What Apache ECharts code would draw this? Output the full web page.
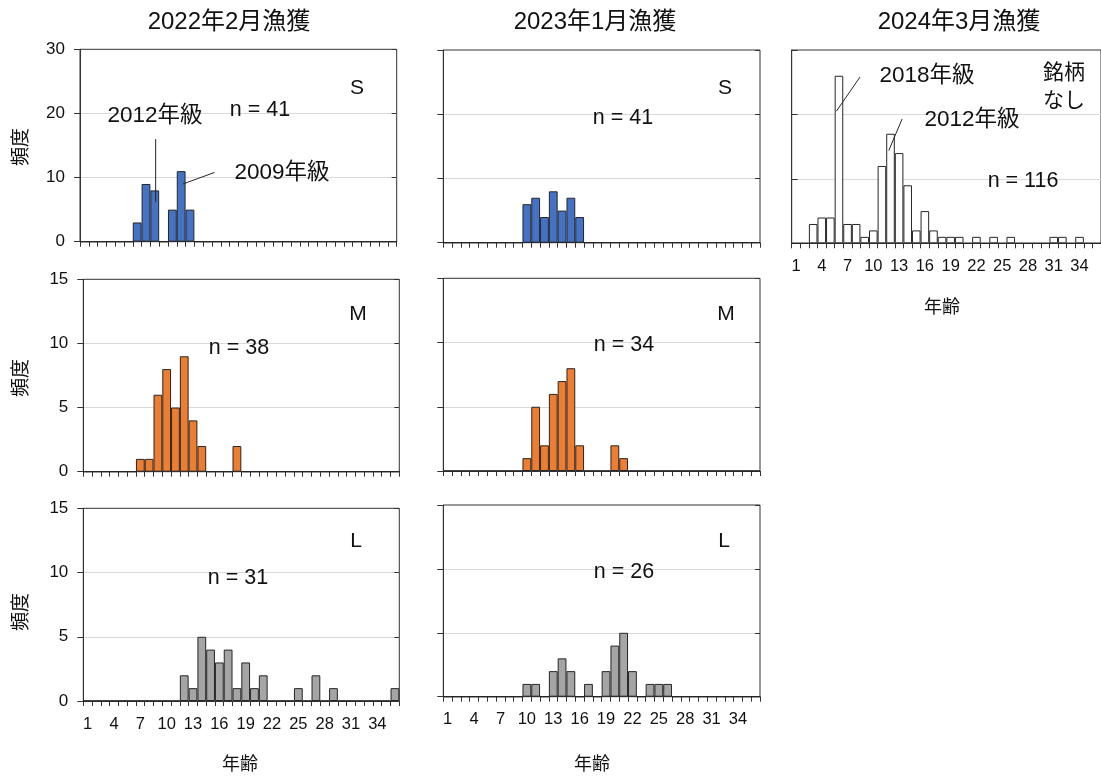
<!DOCTYPE html>
<html><head><meta charset="utf-8">
<script src="https://cdn.jsdelivr.net/npm/echarts@6/dist/echarts.min.js"></script>
<style>html,body{margin:0;padding:0;background:#fff}#c{width:1101px;height:776px}</style>
</head><body><div id="c"></div>
<script>
// ---- data ----
const ages = ['1','2','3','4','5','6','7','8','9','10','11','12','13','14','15','16','17','18',
  '19','20','21','22','23','24','25','26','27','28','29','30','31','32','33','34','35','36'];
const tickLabels = ['1','4','7','10','13','16','19','22','25','28','31','34'];
const s2022 = [0,0,0,0,0,0,3,9,8,0,5,11,5,0,0,0,0,0,0,0,0,0,0,0,0,0,0,0,0,0,0,0,0,0,0,0];
const s2023 = [0,0,0,0,0,0,0,0,0,6,7,4,8,5,7,4,0,0,0,0,0,0,0,0,0,0,0,0,0,0,0,0,0,0,0,0];
const all2024 = [0,0,3,4,4,26,3,3,1,2,12,17,14,9,2,5,2,1,1,1,0,1,0,1,0,1,0,0,0,0,1,1,0,1,0,0];
const m2022 = [0,0,0,0,0,0,1,1,6,8,5,9,4,2,0,0,0,2,0,0,0,0,0,0,0,0,0,0,0,0,0,0,0,0,0,0];
const m2023 = [0,0,0,0,0,0,0,0,0,1,5,2,6,7,8,2,0,0,0,2,1,0,0,0,0,0,0,0,0,0,0,0,0,0,0,0];
const l2022 = [0,0,0,0,0,0,0,0,0,0,0,2,1,5,4,3,4,1,3,1,2,0,0,0,1,0,2,0,1,0,0,0,0,0,0,1];
const l2023 = [0,0,0,0,0,0,0,0,0,1,1,0,2,3,2,0,1,0,2,4,5,2,0,1,1,1,0,0,0,0,0,0,0,0,0,0];
const titles = ['2022年2月漁獲','2023年1月漁獲','2024年3月漁獲'];
const nLabels = ['n = 41','n = 41','n = 116','n = 38','n = 34','n = 31','n = 26'];
const sizeLabels = ['S','S','銘柄\nなし','M','M','L','L'];
// annotation leader lines in data units [age, freq]
const lead2012a = [[9.1,16.0],[9.1,6.2]];
const lead2009 = [[15.8,10.8],[12.2,9.0]];
const lead2018 = [[8.45,25.8],[5.7,20.5]];
const lead2012b = [[13.35,19.3],[11.8,14.4]];

// ---- layout / style ----
const FONT = '"Liberation Sans", "Noto Sans CJK JP", sans-serif';
const TXT = '#111111', AX = '#333333', BORDER = '#262626';
const panels = [
  {grid:{left:80, top:49.3, width:316.7, height:192.4}, data:s2022, color:'#4472C4', ymax:30, yint:10, ylab:true, xlab:false, cross:true},
  {grid:{left:443.3, top:50, width:316.7, height:192.7}, data:s2023, color:'#4472C4', ymax:30, yint:10, ylab:false, xlab:false, cross:true},
  {grid:{left:791.7, top:50, width:317.2, height:193.3}, data:all2024, color:'#FFFFFF', ymax:30, yint:10, ylab:false, xlab:true, cross:false},
  {grid:{left:83.3, top:279.3, width:316, height:192.4}, data:m2022, color:'#ED7D31', ymax:15, yint:5, ylab:true, xlab:false, cross:true},
  {grid:{left:443.3, top:278.3, width:316.7, height:192.7}, data:m2023, color:'#ED7D31', ymax:15, yint:5, ylab:false, xlab:false, cross:true},
  {grid:{left:83.3, top:508.3, width:316, height:192.7}, data:l2022, color:'#A5A5A5', ymax:15, yint:5, ylab:true, xlab:true, cross:true},
  {grid:{left:443.3, top:505, width:316.7, height:191.7}, data:l2023, color:'#A5A5A5', ymax:15, yint:5, ylab:false, xlab:true, cross:true}
];

const grid = [], xAxis = [], yAxis = [], series = [];
const valAxisOf = {};
panels.forEach((p, i) => {
  grid.push(Object.assign({show:true, borderColor:AX, borderWidth:1, backgroundColor:'transparent'}, p.grid));
  const xi = xAxis.length;
  xAxis.push({gridIndex:i, type:'category', data:ages, boundaryGap:true,
    axisLine:{show:true, onZero:false, lineStyle:{color:AX, width:1}},
    axisTick:{show:true, interval:0, inside:false, length:5, lineStyle:{color:AX}},
    axisLabel:{show:p.xlab, interval:(idx, v) => tickLabels.includes(v), fontSize:16.5, color:TXT, margin:15, fontFamily:FONT},
    splitLine:{show:false}});
  xAxis.push({gridIndex:i, type:'category', data:ages, boundaryGap:true,
    axisLine:{show:false}, axisTick:{show:true, interval:0, inside:true, length:4, lineStyle:{color:AX}},
    axisLabel:{show:false}, splitLine:{show:false}});
  valAxisOf[i] = xAxis.length;
  xAxis.push({gridIndex:i, type:'value', min:0.5, max:36.5, show:false});
  const yi = yAxis.length;
  yAxis.push({gridIndex:i, type:'value', min:0, max:p.ymax, interval:p.yint,
    axisLine:{show:true, lineStyle:{color:AX, width:1}},
    axisTick:{show:true, inside:!p.cross, length:6, lineStyle:{color:AX}},
    axisLabel:{show:p.ylab, fontSize:17, color:TXT, margin:15, fontFamily:FONT},
    splitLine:{show:true, showMinLine:false, showMaxLine:false, lineStyle:{color:'#d9d9d9', width:1}}});
  if (p.cross) {
    yAxis.push({gridIndex:i, type:'value', min:0, max:p.ymax, interval:p.yint,
      axisLine:{show:false}, axisTick:{show:true, inside:true, length:5, lineStyle:{color:AX}},
      axisLabel:{show:false}, splitLine:{show:false}});
  }
  series.push({type:'bar', xAxisIndex:xi, yAxisIndex:yi, data:p.data, barCategoryGap:'0%', barGap:'0%',
    itemStyle:{color:p.color, borderColor:BORDER, borderWidth:1}, silent:true, animation:false});
  p.yi = yi;
});
function lead(pi, pts) {
  series.push({type:'line', xAxisIndex:valAxisOf[pi], yAxisIndex:panels[pi].yi, data:pts,
    symbol:'none', lineStyle:{color:BORDER, width:1}, z:5, silent:true, animation:false});
}
lead(0, lead2012a); lead(0, lead2009); lead(2, lead2018); lead(2, lead2012b);

function txt(x, y, text, size, extra) {
  return Object.assign({type:'text', x:x, y:y, z:10, silent:true,
    style:{text:text, font:'normal ' + size + 'px ' + FONT, fill:TXT,
      align:'center', verticalAlign:'middle', textAlign:'center', textVerticalAlign:'middle', lineHeight:28}}, extra || {});
}
const graphic = [];
const titlePos = [[229,22],[595,22],[959,22]];
titles.forEach((t, i) => graphic.push(txt(titlePos[i][0], titlePos[i][1], t, 24)));
const nPos = [[260,110],[623,118],[1023,181],[239,348],[624,345],[238,578],[624,572]];
nLabels.forEach((t, i) => graphic.push(txt(nPos[i][0], nPos[i][1], t, 21.5)));
const sPos = [[357,88],[725,88],[1064,87],[358,314],[726,314],[356,541],[724,541]];
sizeLabels.forEach((t, i) => graphic.push(txt(sPos[i][0], sPos[i][1], t, 21)));
graphic.push(txt(155,116,'2012年級',22.5));
graphic.push(txt(282,173,'2009年級',22.5));
graphic.push(txt(927,76,'2018年級',22.5));
graphic.push(txt(972,120,'2012年級',22.5));
[[22,147],[22,378],[22,612]].forEach(p => graphic.push(txt(p[0], p[1], '頻度', 19, {rotation:Math.PI/2})));
[[240,765],[592,765],[942,308]].forEach(p => graphic.push(txt(p[0], p[1], '年齢', 18)));

const chart = echarts.init(document.getElementById('c'), null, {renderer:'canvas'});
chart.setOption({animation:false, backgroundColor:'#fff', grid, xAxis, yAxis, series, graphic,
  textStyle:{fontFamily:FONT}});
</script></body></html>
